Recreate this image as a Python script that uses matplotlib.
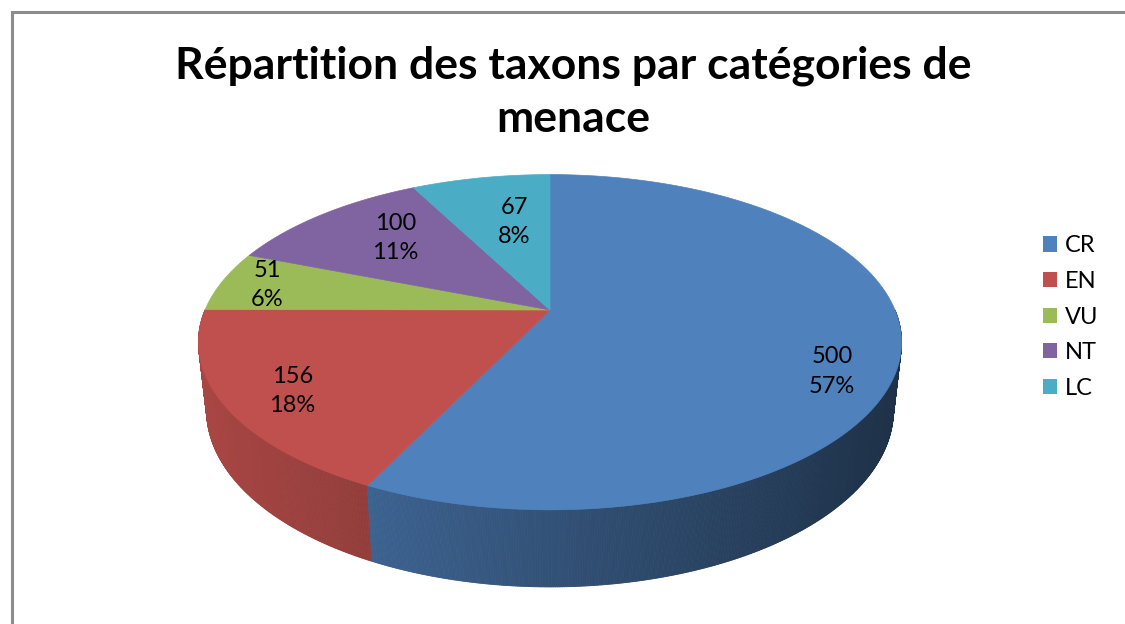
import numpy as np
import matplotlib
matplotlib.use('Agg')
import matplotlib.pyplot as plt
from matplotlib.patches import Patch, Rectangle
from matplotlib.collections import PolyCollection
from matplotlib.colors import to_rgb

categories = ['CR', 'EN', 'VU', 'NT', 'LC']
counts = [500, 156, 51, 100, 67]
colors = ['#4F81BD', '#C0504D', '#9BBB59', '#8064A2', '#4BACC6']
title = 'Répartition des taxons par catégories de\nmenace'

# where each data label sits inside its slice (radius fraction, angle shift in degrees)
label_r = [0.84, 0.82, 0.86, 0.69, 0.62]
label_shift = [-12, 2, 0, -3, -3]

plt.rcParams['font.family'] = ['Lato', 'DejaVu Sans']

# simple perspective camera for the "3d" pie
elev = np.radians(27.9)
dist = 4.6
thick = 0.225
sn, cs = np.sin(elev), np.cos(elev)


def project(t, r=1.0, z=0.0):
    x = r * np.cos(t)
    y = r * np.sin(t)
    w = dist + y * cs - z * sn
    return x * dist / w, (y * sn + z * cs) * dist / w


total = float(sum(counts))
cum = np.cumsum(counts) / total * 360.0
starts = 90.0 - np.concatenate([[0], cum[:-1]])
ends = 90.0 - cum

fig = plt.figure(figsize=(11.25, 6.24), dpi=100)
ax = fig.add_axes([0, 0, 1, 1])
k = 345.0
cx, cy = 550.0, 310.0
ax.set_xlim(-cx / k, (1125 - cx) / k)
ax.set_ylim(-(624 - cy) / k, cy / k)
ax.axis('off')

# side wall, front half, as thin shaded strips
step = np.radians(0.25)
tt = np.arange(np.pi, 2 * np.pi, step)
strips = []
for t0 in tt:
    t1 = t0 + step
    tm = t0 + step / 2
    a = (90.0 - np.degrees(tm)) % 360.0
    idx = min(int(np.searchsorted(cum, a)), len(counts) - 1)
    x0, y0 = project(t0)
    x1, y1 = project(t1)
    x2, y2 = project(t1, z=-thick)
    x3, y3 = project(t0, z=-thick)
    xm, _ = project(tm)
    f = np.clip(0.63 - 0.245 * xm, 0, 1)
    col = tuple(np.array(to_rgb(colors[idx])) * f)
    strips.append((np.sin(tm), [(x0, y0), (x1, y1), (x2, y2), (x3, y3)], col))
strips.sort(key=lambda s: -s[0])
pc = PolyCollection([s[1] for s in strips], facecolors=[s[2] for s in strips],
                    edgecolors=[s[2] for s in strips], linewidths=0.6)
ax.add_collection(pc)

# top face
cx0, cy0 = project(0.0, r=0.0)
for i in range(len(counts)):
    th = np.radians(np.linspace(starts[i], ends[i], 200))
    px, py = project(th)
    ax.fill(np.r_[cx0, px], np.r_[cy0, py], facecolor=colors[i],
            edgecolor=colors[i], linewidth=0.5)

# data labels
for i, v in enumerate(counts):
    mid = np.radians((starts[i] + ends[i]) / 2 + label_shift[i])
    lx, ly = project(mid, r=label_r[i])
    pct = int(round(100 * v / total))
    ax.text(lx, ly, '%d\n%d%%' % (v, pct), ha='center', va='center',
            fontsize=17, linespacing=1.5, color='black')

fig.text(573 / 1125, 1 - 92 / 624, title, ha='center', va='center',
         fontsize=32, fontweight='bold', linespacing=1.4)

handles = [Patch(facecolor=c, edgecolor='none') for c in colors]
ax.legend(handles, categories, loc='center left',
          bbox_to_anchor=(1031 / 1125, 1 - 317 / 624), bbox_transform=fig.transFigure,
          frameon=False, handlelength=0.62, handleheight=0.62, handletextpad=0.3,
          labelspacing=0.62, borderpad=0, prop={'size': 17})

fig.add_artist(Rectangle((11.5 / 1125, -0.1), 1.2, 1 - 11.5 / 624 + 0.1,
                         transform=fig.transFigure, fill=False,
                         edgecolor='#8C8C8C', linewidth=2.2))

fig.savefig('out.png', dpi=100)
